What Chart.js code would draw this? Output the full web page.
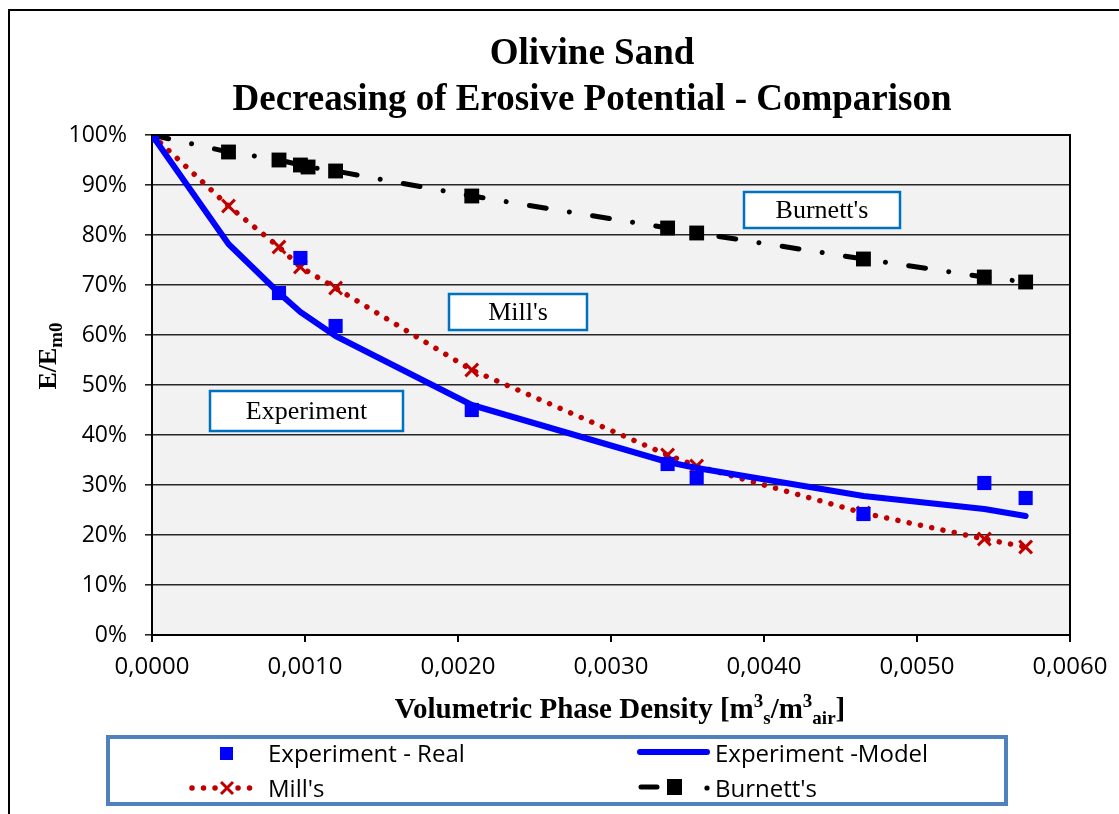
<!DOCTYPE html>
<html>
<head>
<meta charset="utf-8">
<title>Olivine Sand</title>
<style>
  html, body { margin: 0; padding: 0; background: #fff; }
  #box { position: relative; width: 1119px; height: 814px; }
</style>
<script src="https://cdn.jsdelivr.net/npm/chart.js@4.4.1/dist/chart.umd.min.js"></script>
</head>
<body>
<div id="box"><canvas id="myChart"></canvas></div>

<script>
// values (x = volumetric phase density, y = E/Em0)
const realX = [0, 0.00083, 0.00097, 0.0012, 0.00209, 0.00337, 0.00356, 0.00465, 0.00544, 0.00571];
const realY = [1.00, 0.684, 0.754, 0.618, 0.450, 0.342, 0.314, 0.242, 0.304, 0.274];

const modelX = [0, 0.0005, 0.00083, 0.00097, 0.0012, 0.00209, 0.00337, 0.00356, 0.00465, 0.00544, 0.00571];
const modelY = [1.00, 0.782, 0.684, 0.646, 0.598, 0.460, 0.346, 0.334, 0.278, 0.252, 0.238];

const millX = [0, 0.0005, 0.00083, 0.00097, 0.0012, 0.00209, 0.00337, 0.00356, 0.00465, 0.00544, 0.00571];
const millY = [1.00, 0.858, 0.776, 0.736, 0.694, 0.530, 0.360, 0.338, 0.244, 0.192, 0.176];

const burnX = [0, 0.0005, 0.00083, 0.00097, 0.00102, 0.0012, 0.00209, 0.00337, 0.00356, 0.00465, 0.00544, 0.00571];
const burnY = [1.00, 0.966, 0.950, 0.940, 0.936, 0.928, 0.878, 0.814, 0.804, 0.752, 0.716, 0.706];

const xTicks = [0, 0.001, 0.002, 0.003, 0.004, 0.005, 0.006];
const seriesNames = ['Experiment - Real', 'Experiment -Model', "Mill's", "Burnett's"];
const notes = ['Experiment', "Mill's", "Burnett's"];

function pts(xs, ys) {
  return xs.map((x, i) => ({x: x, y: ys[i]}));
}

const SERIF = '"Liberation Serif", "Times New Roman", serif';
const SANS = '"Open Sans", sans-serif';

// text made of pieces: [text, size, dy]
function partsWidth(ctx, parts) {
  let w = 0;
  parts.forEach(p => { ctx.font = 'bold ' + p[1] + 'px ' + SERIF; w += ctx.measureText(p[0]).width; });
  return w;
}
function drawParts(ctx, parts, x, y) {
  parts.forEach(p => {
    ctx.font = 'bold ' + p[1] + 'px ' + SERIF;
    ctx.fillText(p[0], x, y + p[2]);
    x += ctx.measureText(p[0]).width;
  });
}

function noteBox(ctx, text, l, t, r, b) {
  ctx.fillStyle = '#fff';
  ctx.fillRect(l, t, r - l, b - t);
  ctx.strokeStyle = '#0070C0';
  ctx.lineWidth = 2.5;
  ctx.strokeRect(l, t, r - l, b - t);
  ctx.fillStyle = '#000';
  ctx.font = '26px ' + SERIF;
  ctx.textAlign = 'center';
  ctx.textBaseline = 'middle';
  ctx.fillText(text, (l + r) / 2, (t + b) / 2 + 1);
}

const decor = {
  id: 'decor',
  beforeDraw(chart) {
    const {ctx, chartArea: a} = chart;
    ctx.save();
    ctx.fillStyle = '#fff';
    ctx.fillRect(0, 0, chart.width, chart.height);
    ctx.fillStyle = '#F2F2F2';
    ctx.fillRect(a.left, a.top, a.right - a.left, a.bottom - a.top);
    ctx.restore();
  },
  afterDraw(chart) {
    const {ctx, chartArea: a} = chart;
    const ds = chart.data.datasets;
    ctx.save();

    // outer frame
    ctx.strokeStyle = '#000';
    ctx.lineWidth = 2;
    ctx.beginPath();
    ctx.moveTo(9, 814); ctx.lineTo(9, 10); ctx.lineTo(1119, 10);
    ctx.stroke();

    // right and top edge of plot
    ctx.beginPath();
    ctx.moveTo(a.left, a.top); ctx.lineTo(a.right, a.top); ctx.lineTo(a.right, a.bottom);
    ctx.stroke();

    // title
    ctx.fillStyle = '#000';
    ctx.textAlign = 'center';
    ctx.textBaseline = 'alphabetic';
    ctx.font = 'bold 37px ' + SERIF;
    ctx.fillText('Olivine Sand', 592, 64);
    ctx.fillText('Decreasing of Erosive Potential - Comparison', 592, 110);

    // x axis title
    ctx.textAlign = 'left';
    const xt = [['Volumetric Phase Density [m', 29, 0], ['3', 19, -11], ['s', 19, 6],
                ['/m', 29, 0], ['3', 19, -11], ['air', 19, 6], [']', 29, 0]];
    drawParts(ctx, xt, 620 - partsWidth(ctx, xt) / 2, 718);

    // y axis title
    ctx.save();
    ctx.translate(56, 356);
    ctx.rotate(-Math.PI / 2);
    const yt = [['E/E', 26, 0], ['m0', 19, 6]];
    drawParts(ctx, yt, -partsWidth(ctx, yt) / 2, 0);
    ctx.restore();

    // labels in the plot
    noteBox(ctx, notes[0], 210, 391, 403, 431);
    noteBox(ctx, notes[1], 449, 294, 587, 330);
    noteBox(ctx, notes[2], 744, 192, 900, 228);

    // legend
    ctx.strokeStyle = '#4F81BD';
    ctx.lineWidth = 4;
    ctx.strokeRect(108, 737, 898, 67);

    ctx.fillStyle = '#000';
    ctx.font = '24px ' + SANS;
    ctx.textAlign = 'left';
    ctx.textBaseline = 'alphabetic';
    ctx.fillText(ds[0].label, 268, 762);
    ctx.fillText(ds[1].label, 715, 762);
    ctx.fillText(ds[2].label, 268, 797);
    ctx.fillText(ds[3].label, 715, 797);

    // real: square
    ctx.fillStyle = ds[0].pointBackgroundColor;
    ctx.fillRect(220, 747, 13, 13);

    // model: solid line
    ctx.strokeStyle = ds[1].borderColor;
    ctx.lineWidth = ds[1].borderWidth;
    ctx.lineCap = 'round';
    ctx.beginPath(); ctx.moveTo(640, 752); ctx.lineTo(707, 752); ctx.stroke();

    // mill's: dots with a cross
    ctx.strokeStyle = ds[2].borderColor;
    ctx.lineWidth = ds[2].borderWidth;
    ctx.setLineDash(ds[2].borderDash);
    ctx.beginPath(); ctx.moveTo(192, 788); ctx.lineTo(253, 788); ctx.stroke();
    ctx.setLineDash([]);
    ctx.fillStyle = '#fff';
    ctx.fillRect(219, 780, 16, 16);
    ctx.lineWidth = ds[2].pointBorderWidth;
    ctx.lineCap = 'butt';
    ctx.beginPath();
    ctx.moveTo(221, 782); ctx.lineTo(233, 794);
    ctx.moveTo(233, 782); ctx.lineTo(221, 794);
    ctx.stroke();

    // burnett's: dash, square, dot
    ctx.strokeStyle = ds[3].borderColor;
    ctx.lineWidth = ds[3].borderWidth;
    ctx.lineCap = 'round';
    ctx.beginPath(); ctx.moveTo(641, 787); ctx.lineTo(657, 787); ctx.stroke();
    ctx.fillStyle = ds[3].pointBackgroundColor;
    ctx.fillRect(667, 779, 15, 16);
    ctx.beginPath(); ctx.arc(707, 788, 2.6, 0, Math.PI * 2); ctx.fill();

    ctx.restore();
  }
};

const ctx = document.getElementById('myChart').getContext('2d');
const chart = new Chart(ctx, {
  type: 'scatter',
  data: {
    datasets: [{
      label: seriesNames[0],
      data: pts(realX, realY),
      showLine: false,
      pointStyle: 'rect',
      pointRadius: 10,
      pointBackgroundColor: '#0000FF',
      pointBorderColor: '#0000FF',
      pointBorderWidth: 0
    }, {
      label: seriesNames[1],
      data: pts(modelX, modelY),
      showLine: true,
      borderColor: '#0000FF',
      borderWidth: 6,
      borderCapStyle: 'round',
      borderJoinStyle: 'round',
      pointRadius: 0,
      tension: 0
    }, {
      label: seriesNames[2],
      data: pts(millX, millY),
      showLine: true,
      borderColor: '#C00000',
      borderWidth: 5.5,
      borderDash: [0.01, 11.5],
      borderCapStyle: 'round',
      pointStyle: 'crossRot',
      pointRadius: 9,
      pointBorderColor: '#C00000',
      pointBorderWidth: 3,
      tension: 0
    }, {
      label: seriesNames[3],
      data: pts(burnX, burnY),
      showLine: true,
      borderColor: '#000000',
      borderWidth: 5,
      borderDash: [17, 23.5, 0.01, 23.5],
      borderCapStyle: 'round',
      pointStyle: 'rect',
      pointRadius: 10.5,
      pointBackgroundColor: '#000000',
      pointBorderColor: '#000000',
      pointBorderWidth: 0,
      tension: 0
    }]
  },
  options: {
    responsive: true,
    maintainAspectRatio: false,
    animation: false,
    devicePixelRatio: 1,
    layout: { padding: { left: 0, top: 135, right: 49, bottom: 129 } },
    plugins: {
      legend: { display: false },
      title: { display: false },
      tooltip: { enabled: false }
    },
    scales: {
      x: {
        type: 'linear',
        min: 0,
        max: 0.006,
        afterBuildTicks: s => { s.ticks = xTicks.map(v => ({value: v})); },
        afterFit: s => { s.height = 50; },
        ticks: {
          color: '#000',
          font: { family: SANS, size: 24 },
          padding: 11,
          maxRotation: 0,
          callback: v => v.toFixed(4).replace('.', ',')
        },
        grid: { drawOnChartArea: false, drawTicks: true, tickLength: 7, color: '#000', lineWidth: 2 },
        border: { display: true, color: '#000', width: 2 }
      },
      y: {
        min: 0,
        max: 1,
        afterFit: s => { s.width = 152; },
        ticks: {
          stepSize: 0.1,
          color: '#000',
          font: { family: SANS, size: 23 },
          padding: 18,
          callback: v => Math.round(v * 100) + '%'
        },
        grid: { color: '#262626', lineWidth: 1.6, tickLength: 7 },
        border: { display: true, color: '#000', width: 2 }
      }
    }
  },
  plugins: [decor]
});
</script>
</body>
</html>
